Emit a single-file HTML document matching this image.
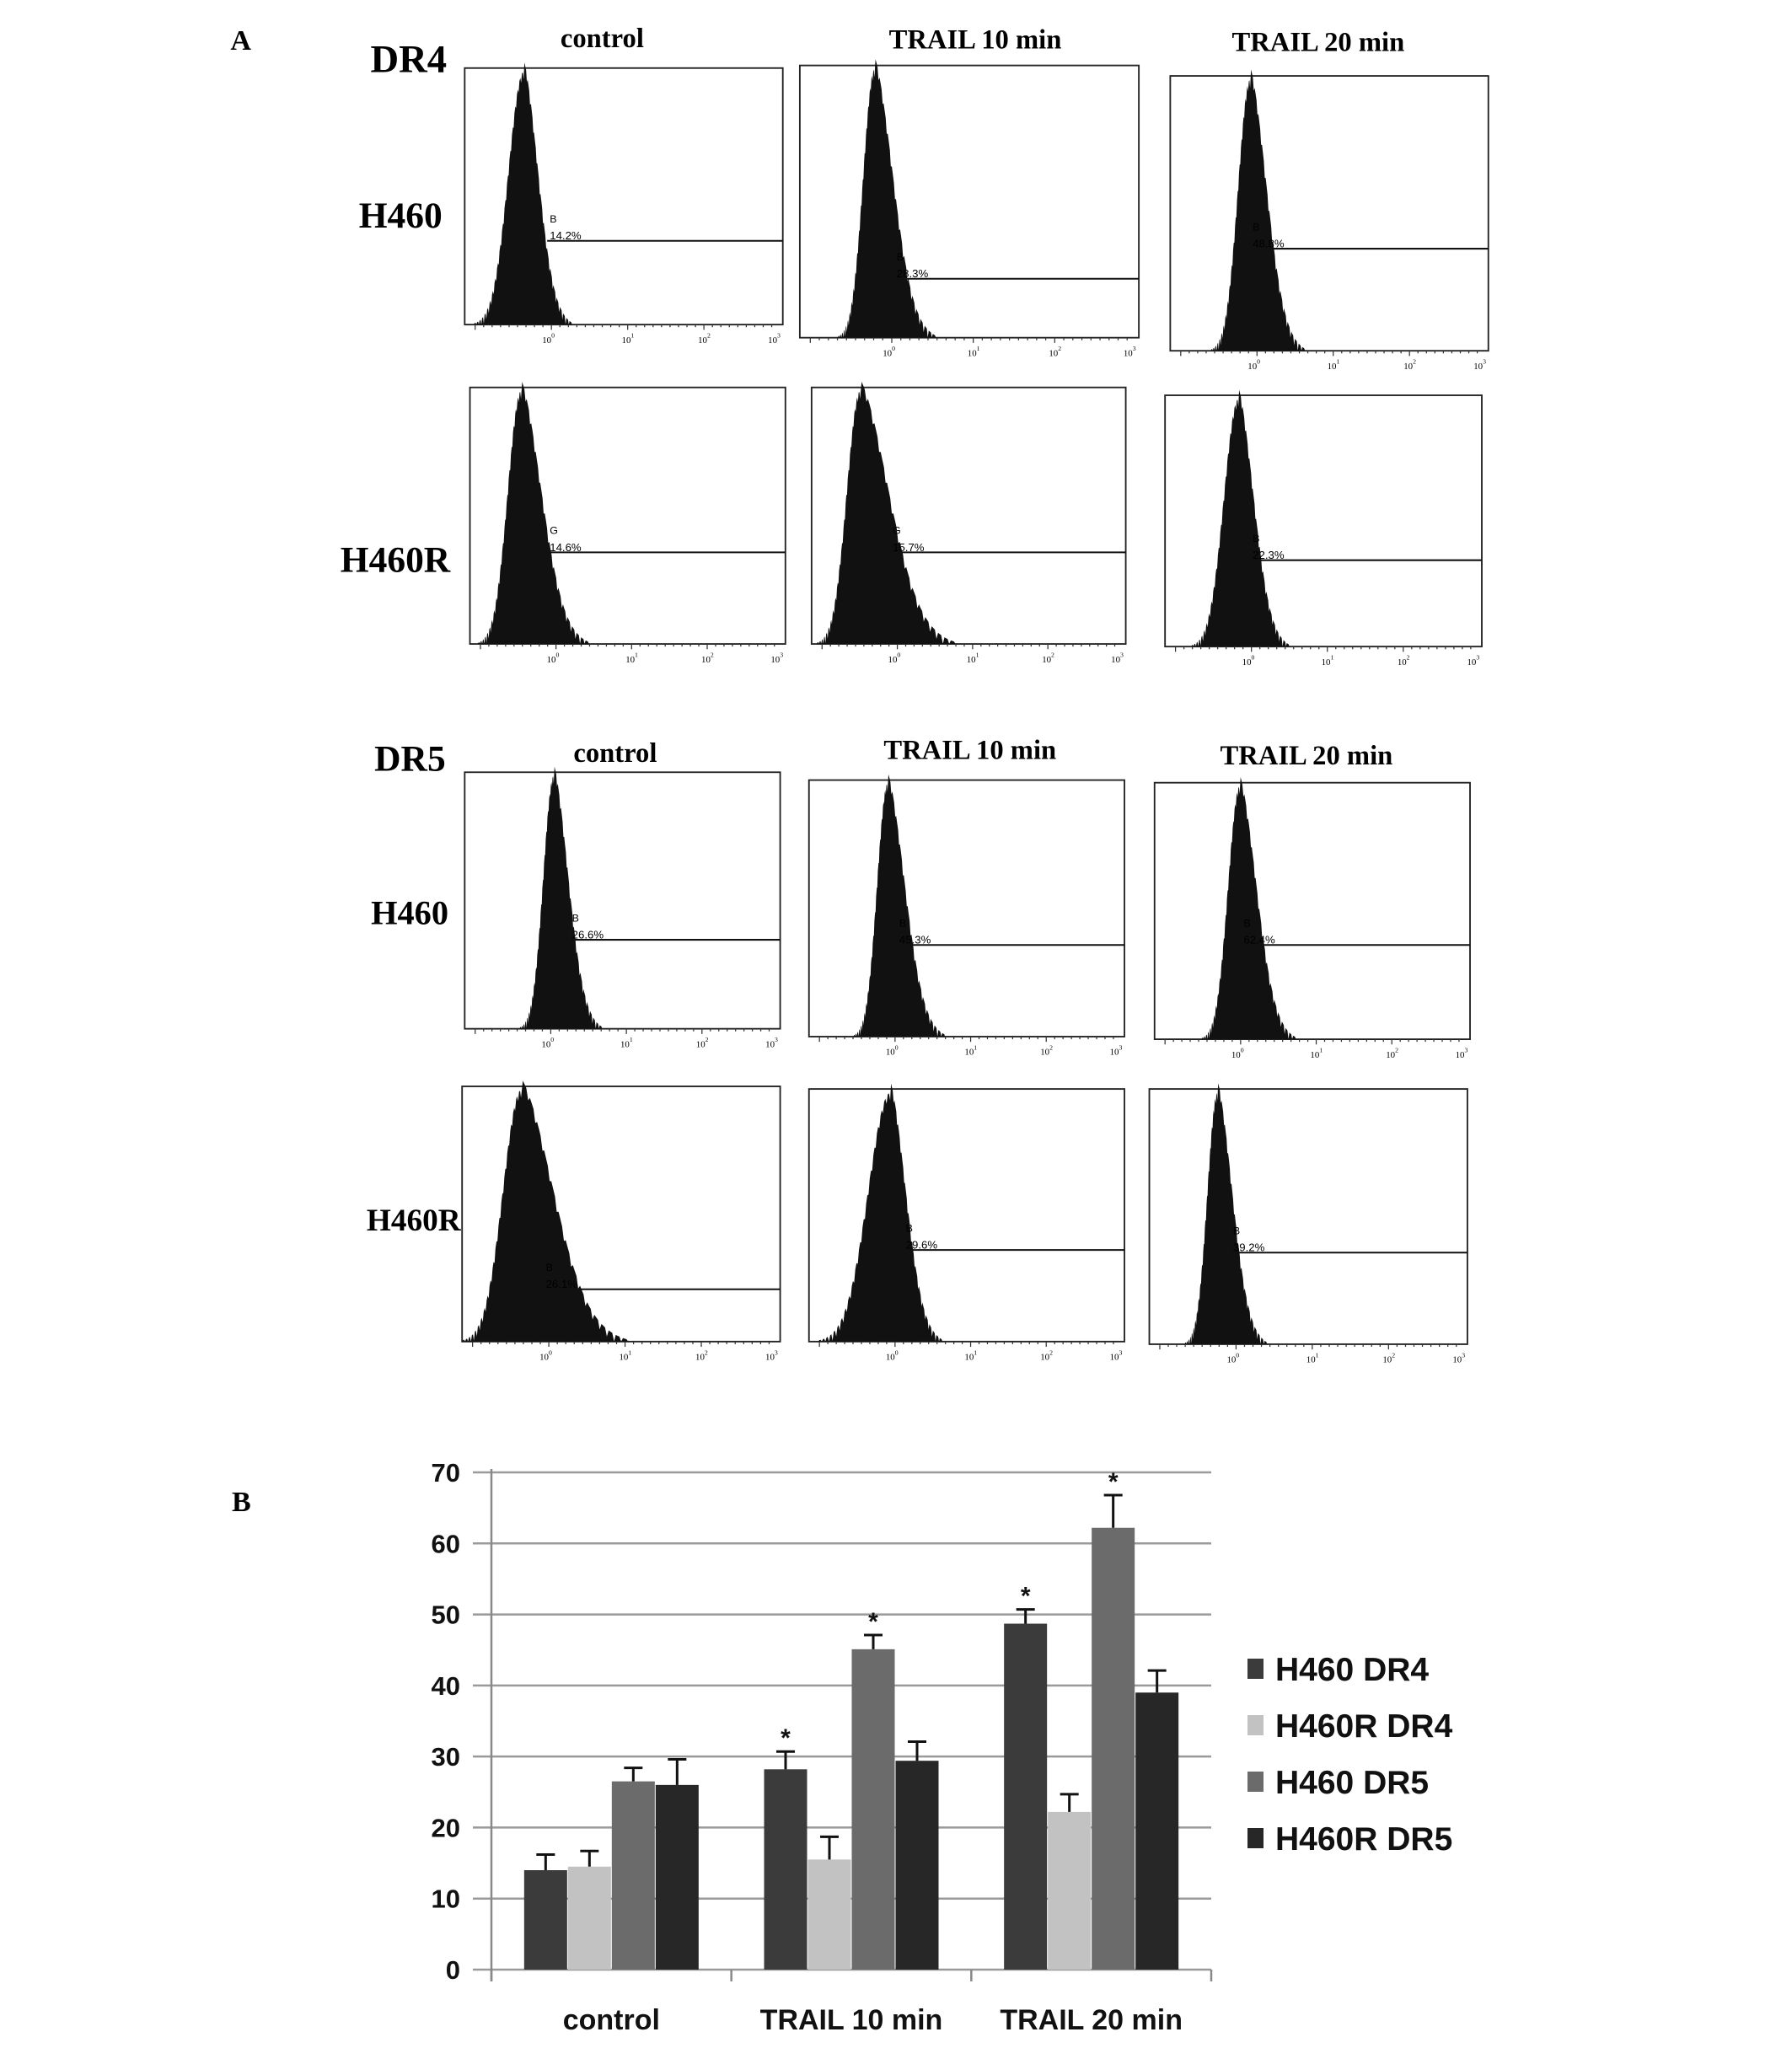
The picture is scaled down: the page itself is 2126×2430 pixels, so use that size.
<!DOCTYPE html>
<html><head><meta charset="utf-8"><style>
html,body{margin:0;padding:0;background:#fff}
svg{display:block}
.serif{font-family:"Liberation Serif",serif;font-weight:bold}
.sans{font-family:"Liberation Sans",sans-serif;font-weight:bold}
</style></head><body>
<svg id="fig" width="2126" height="2430" viewBox="0 0 2126 2430" xmlns="http://www.w3.org/2000/svg">
<g id="topgroup" transform="scale(1.553)">
  <text class="serif" x="176" y="38" font-size="22">A</text>
  <text class="serif" x="283" y="55" font-size="30">DR4</text>
  <text class="serif" x="460" y="36" font-size="21" text-anchor="middle">control</text>
  <text class="serif" x="745" y="37" font-size="21" text-anchor="middle">TRAIL 10 min</text>
  <text class="serif" x="1007" y="39" font-size="21" text-anchor="middle">TRAIL 20 min</text>
  <text class="serif" x="306" y="174" font-size="28" text-anchor="middle">H460</text>
  <text class="serif" x="302" y="437" font-size="28" text-anchor="middle">H460R</text>
  <text class="serif" x="286" y="589" font-size="28">DR5</text>
  <text class="serif" x="470" y="582" font-size="21" text-anchor="middle">control</text>
  <text class="serif" x="741" y="580" font-size="21" text-anchor="middle">TRAIL 10 min</text>
  <text class="serif" x="998" y="584" font-size="21" text-anchor="middle">TRAIL 20 min</text>
  <text class="serif" x="313" y="706" font-size="26" text-anchor="middle">H460</text>
  <text class="serif" x="316" y="940" font-size="24" text-anchor="middle">H460R</text>
</g>
<g id="bottom">
  <text class="serif" x="275" y="1793" font-size="34">B</text>
</g>
</svg>
<script>
const NS='http://www.w3.org/2000/svg';
function mk(parent,tag,attrs){const e=document.createElementNS(NS,tag);for(const k in attrs)e.setAttribute(k,attrs[k]);parent.appendChild(e);return e;}

const boxes=[[355,52,598,248],[611,50,870,258],[894,58,1137,268],[359,296,600,492],[620,296,860,492],[890,302,1132,494],[355,590,596,786],[618,596,859,792],[882,598,1123,794],[353,830,596,1025],[618,832,859,1025],[878,832,1121,1027]];
const histFeet=[[362,437],[640,715],[925,997],[365,450],[624,730],[910,985],[397,460],[652,722],[918,990],[353,480],[625,720],[905,968]];
const histPeaks=[400,668,955,398,657,946,423,678,947,398,680,930];
const gateY=[184,213,190,422,422,428,718,722,722,985,955,957];
const gateX=[418,683,955,418,680,955,435,685,948,415,690,940];
const gateLetters=['B','B','B','G','G','B','B','B','B','B','B','B'];
const gatePct=['14.2%','28.3%','48.8%','14.6%','15.7%','22.3%','26.6%','45.3%','62.4%','26.1%','29.6%','39.2%'];
const topG=document.getElementById('topgroup');
boxes.forEach((b,i)=>{
  const g=mk(topG,'g',{});
  
  
  const [x0,y0,x1,y1]=b;
  const r=mk(g,'rect',{x:x0,y:y0,width:x1-x0,height:y1-y0,fill:'none',stroke:'#222','stroke-width':1.2});
  
  
  const [fl,fr]=histFeet[i];const pk=histPeaks[i];const h=y1-y0-3;
  let pts=[[fl,y1]];const n=60;
  for(let k=1;k<=n;k++){const t=k/n;const x=fl+(pk-fl)*t;const v=Math.exp(-Math.pow((1-t)*2.3,2));const j=(k%3===0?0.03:0)*h;pts.push([x,Math.min(y1,y1-v*h+j)]);}
  for(let k=1;k<=n;k++){const t=k/n;const x=pk+(fr-pk)*t;const v=Math.exp(-Math.pow(t*2.0,2))*(1-t*0.6)+0.05*(1-t);const j=(k%4===0?0.03:0)*h;pts.push([x,Math.min(y1,y1-Math.max(0,v*h)+j)]);}
  pts.push([fr,y1]);
  const p=mk(g,'polygon',{points:pts.map(q=>q[0].toFixed(1)+','+q[1].toFixed(1)).join(' '),fill:'#111'});
  
  
  const l=mk(g,'line',{x1:gateX[i],y1:gateY[i],x2:x1,y2:gateY[i],stroke:'#111','stroke-width':1.3});
  
  
  const t1=mk(g,'text',{x:gateX[i]+2,y:gateY[i]-14,'font-size':8,'font-family':'Liberation Sans, sans-serif',fill:'#000'});t1.textContent=gateLetters[i];
  
  
  const t2=mk(g,'text',{x:gateX[i]+2,y:gateY[i]-1,'font-size':8.5,'font-family':'Liberation Sans, sans-serif',fill:'#000'});t2.textContent=gatePct[i];
  
  
  const w=x1-x0;const fr2=[0.26,0.51,0.75,0.97];
  for(let d=0;d<4;d++){
    const tx=x0+w*fr2[d];
    const tt=mk(g,'text',{x:tx-4,y:y1+14,'font-size':7,'font-family':'Liberation Serif, serif',fill:'#000'});
    tt.textContent='10';
    
    
    const sp=mk(tt,'tspan',{dy:-4,'font-size':5});sp.textContent=String(d);
  }
  for(let m=0;m<36;m++){const tx=x0+8+m*(w-10)/36;mk(g,'line',{x1:tx,y1:y1,x2:tx,y2:y1+(m%9===0?4:2),stroke:'#333','stroke-width':0.8});}
});

const categories=['control','TRAIL 10 min','TRAIL 20 min'];
const seriesNames=['H460 DR4','H460R DR4','H460 DR5','H460R DR5'];
const h460DR4=[14,28.2,48.7];
const h460rDR4=[14.5,15.5,22.2];
const h460DR5=[26.5,45.1,62.2];
const h460rDR5=[26,29.4,39];
const err460DR4=[2.2,2.5,2.0];
const err460rDR4=[2.2,3.2,2.5];
const err460DR5=[1.9,2.0,4.6];
const err460rDR5=[3.6,2.7,3.1];
const significant=[[false,true,true],[false,false,false],[false,true,true],[false,false,false]];
const yTicks=[0,10,20,30,40,50,60,70];
const seriesValues=[h460DR4,h460rDR4,h460DR5,h460rDR5];
const seriesErr=[err460DR4,err460rDR4,err460DR5,err460rDR5];
const colors=['#3b3b3b','#c2c2c2','#6b6b6b','#272727'];

const B=document.getElementById('bottom');
const X0=583,X1=1437,Y0=2337,YT=1747,YMAX=70;
const yS=v=>Y0-(v/YMAX)*(Y0-YT);
const groupW=(X1-X0)/categories.length;
const barW=51;
const xBar=(c,s)=>X0+c*groupW+(groupW-barW*4-3)/2+s*(barW+1);
yTicks.forEach(t=>{
  const gl=mk(B,'line',{x1:X0-22,y1:yS(t),x2:X1,y2:yS(t),stroke:'#9a9a9a','stroke-width':2.5});
  
  
  const tl=mk(B,'text',{x:546,y:yS(t)+11,'font-size':31,'text-anchor':'end',class:'sans',fill:'#111'});
  tl.textContent=t;
  
  
});
const ya=mk(B,'line',{x1:X0,y1:YT-4,x2:X0,y2:Y0+14,stroke:'#888','stroke-width':2.5});


for(let c=0;c<=categories.length;c++){const x=X0+c*groupW;mk(B,'line',{x1:x,y1:Y0,x2:x,y2:Y0+14,stroke:'#888','stroke-width':2.5});}
categories.forEach((cat,c)=>{
  const t=mk(B,'text',{x:X0+(c+0.5)*groupW,y:2408,'font-size':34,'text-anchor':'middle',class:'sans',fill:'#111'});
  t.textContent=cat;
  
  
  seriesValues.forEach((vals,s)=>{
    const v=vals[c],e=seriesErr[s][c];const x=xBar(c,s);
    const r=mk(B,'rect',{x:x,y:yS(v),width:barW,height:Y0-yS(v),fill:colors[s]});
    
    
    const cx=x+barW/2;
    const eb=mk(B,'path',{d:`M${cx},${yS(v)} V${yS(v+e)} M${cx-11},${yS(v+e)} H${cx+11}`,stroke:'#111','stroke-width':3,fill:'none'});
    
    
    if(significant[s][c]){
      const a=mk(B,'text',{x:cx,y:yS(v+e)-6,'font-size':30,'text-anchor':'middle',class:'sans',fill:'#111'});
      a.textContent='*';
      
      
    }
  });
});
const legendY=[1980,2047,2114,2181];
seriesNames.forEach((nm,s)=>{
  const g=mk(B,'g',{});
  
  
  mk(g,'rect',{x:1480,y:legendY[s]-12,width:19,height:24,fill:colors[s]});
  const t=mk(g,'text',{x:1513,y:legendY[s]+14,'font-size':39,class:'sans',fill:'#111'});
  t.textContent=nm;
});
</script>
</body></html>
